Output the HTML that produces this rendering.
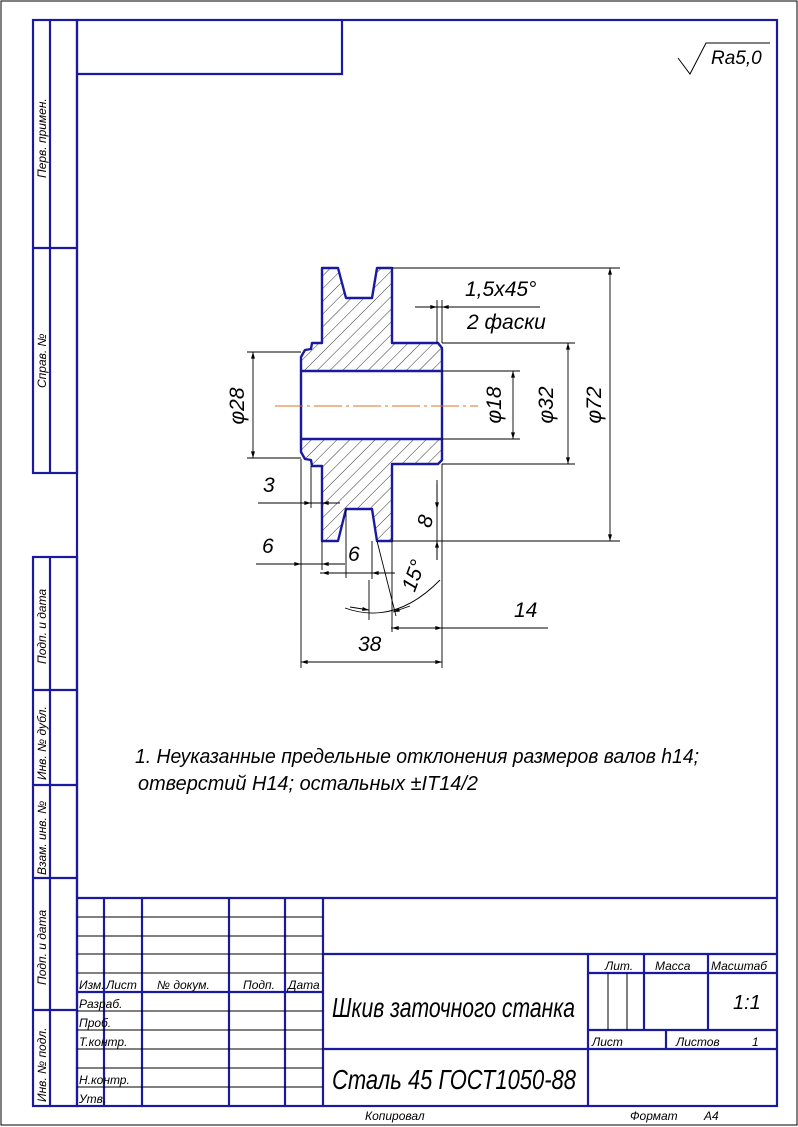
<!DOCTYPE html>
<html><head><meta charset="utf-8"><style>
html,body{margin:0;padding:0;background:#fff}
svg{display:block}
text{font-family:"Liberation Sans Narrow","Liberation Sans",sans-serif;font-style:italic;fill:#000}
</style></head><body>
<svg width="798" height="1127" viewBox="0 0 798 1127" xmlns="http://www.w3.org/2000/svg">
<defs>
<pattern id="h" width="9" height="9" patternUnits="userSpaceOnUse" patternTransform="rotate(45)">
<line x1="0" y1="0" x2="0" y2="9" stroke="#000" stroke-width="0.8"/>
</pattern>
<marker id="a" viewBox="0 0 10 6" refX="10" refY="3" markerWidth="10" markerHeight="4" orient="auto-start-reverse" markerUnits="userSpaceOnUse"><path d="M0,0L10,3L0,6z" fill="#000"/></marker>
</defs>
<rect x="1" y="1" width="796" height="1124" fill="none" stroke="#000" stroke-width="1"/>
<g stroke="#1a1aa0" stroke-width="2.2" fill="none">
<rect x="77" y="20" width="700" height="1086"/>
<path d="M77,74H342V20"/>
<rect x="33" y="20" width="44" height="453"/>
<path d="M50,20V473M33,248H77"/>
<rect x="33" y="557" width="44" height="549"/>
<path d="M50,557V1106M33,690H77M33,785H77M33,878H77M33,1010H77"/>
<!-- title block -->
<path d="M77,898H777M104,898V1106M142,898V1106M229,898V1106M285,898V1106M323,898V1106"/>
<path d="M77,992H323M323,954H777M323,1049H777M588,954V1106M588,973H777M588,1030H777M644,954V1030M708,954V1030M666,1030V1049"/>
</g>
<g stroke="#000" stroke-width="1" fill="none">
<path d="M77,917H323M77,936H323M77,954H323M77,973H323M77,1011H323M77,1030H323M77,1049H323M77,1068H323M77,1087H323"/>
<path d="M608,973V1030M627,973V1030"/>
</g>
<g font-size="12">
<text x="79" y="989">Изм.</text><text x="106" y="989">Лист</text><text x="157" y="989">№ докум.</text><text x="243" y="989">Подп.</text><text x="288" y="989">Дата</text>
<text x="79" y="1008">Разраб.</text><text x="79" y="1027">Проб.</text><text x="79" y="1046">Т.контр.</text>
<text x="79" y="1084">Н.контр.</text><text x="79" y="1103">Утв.</text>
<text x="605" y="970">Лит.</text><text x="655" y="970">Масса</text><text x="711" y="970">Масштаб</text>
<text x="592" y="1046">Лист</text><text x="676" y="1046">Листов</text><text x="752" y="1046">1</text>
<text x="365" y="1120">Копировал</text><text x="630" y="1120">Формат</text><text x="704" y="1120">A4</text>
</g>
<text x="733" y="1009" font-size="20">1:1</text>
<text x="332" y="1017" font-size="28" textLength="243" lengthAdjust="spacingAndGlyphs">Шкив заточного станка</text>
<text x="332" y="1089" font-size="28" textLength="244" lengthAdjust="spacingAndGlyphs">Сталь 45 ГОСТ1050-88</text>
<g font-size="12">
<text transform="translate(46,178) rotate(-90)">Перв. примен.</text>
<text transform="translate(46,388) rotate(-90)">Справ. №</text>
<text transform="translate(46,664) rotate(-90)">Подп. и дата</text>
<text transform="translate(46,780) rotate(-90)">Инв. № дубл.</text>
<text transform="translate(46,875) rotate(-90)">Взам. инв. №</text>
<text transform="translate(46,985) rotate(-90)">Подп. и дата</text>
<text transform="translate(46,1102) rotate(-90)">Инв. № подл.</text>
</g>
<!-- roughness -->
<path d="M678,58L690,74L706,43H770" stroke="#000" fill="none" stroke-width="1"/>
<text x="711" y="64" font-size="19">Ra5,0</text>
<!-- part -->
<g fill="url(#h)" stroke="#1a1aa0" stroke-width="2.4" stroke-linejoin="round">
<path d="M322,268H338L346,298H372L377,268H392V343H438L442,348V371H301V357L305,350L311,349L312,343H322Z"/>
<path d="M301,439H442V460L438,464H392V541H377L372,509H346L338,541H322V466H312L311,460L305,459L301,452Z"/>
</g>
<path d="M301,371V439M442,371V439" stroke="#1a1aa0" stroke-width="2.4"/>
<line x1="275" y1="406" x2="478" y2="406" stroke="#e07020" stroke-width="1" stroke-dasharray="28,4,3,4"/>
<!-- dims -->
<g stroke="#000" stroke-width="0.9" fill="none">
<path d="M247,352H301M247,458H301M442,371H520M442,439H520M442,343H575M442,464H575M392,268H620M392,541H620"/>
<path d="M437,300V343M442,300V343M311,466V508M322,541V570M346,509V578M372,541V579M369,580V620M392,541V632M442,464V668M301,459V668M437,480V560"/>
<path d="M415,307H540"/>
<path d="M377,541L396,616"/>
<path d="M345,608Q395,626 440,580"/>
<path d="M258,503H330M256,564H345M320,573H395M391,628H548M437,484V509M437,541V553" />
<line x1="253" y1="352" x2="253" y2="458" marker-start="url(#a)" marker-end="url(#a)"/>
<line x1="513" y1="371" x2="513" y2="439" marker-start="url(#a)" marker-end="url(#a)"/>
<line x1="568" y1="343" x2="568" y2="464" marker-start="url(#a)" marker-end="url(#a)"/>
<line x1="610" y1="268" x2="610" y2="541" marker-start="url(#a)" marker-end="url(#a)"/>
<line x1="301" y1="662" x2="442" y2="662" marker-start="url(#a)" marker-end="url(#a)"/>
<line x1="420" y1="307" x2="437" y2="307" marker-end="url(#a)"/>
<line x1="460" y1="307" x2="442" y2="307" marker-end="url(#a)"/>
<line x1="282" y1="503" x2="311" y2="503" marker-end="url(#a)"/>
<line x1="340" y1="503" x2="322" y2="503" marker-end="url(#a)"/>
<line x1="280" y1="564" x2="301" y2="564" marker-end="url(#a)"/>
<line x1="342" y1="564" x2="322" y2="564" marker-end="url(#a)"/>
<line x1="322" y1="573" x2="346" y2="573" marker-start="url(#a)"/>
<line x1="372" y1="573" x2="388" y2="573" marker-start="url(#a)"/>
<line x1="392" y1="628" x2="420" y2="628" marker-start="url(#a)"/>
<line x1="412" y1="628" x2="442" y2="628" marker-end="url(#a)"/>
<line x1="437" y1="490" x2="437" y2="509" marker-end="url(#a)"/>
<line x1="437" y1="560" x2="437" y2="541" marker-end="url(#a)"/>
<line x1="350" y1="607" x2="369" y2="610" marker-end="url(#a)"/>
<line x1="410" y1="606" x2="393" y2="612" marker-end="url(#a)"/>
</g>
<g font-size="21">
<text x="465" y="296">1,5x45°</text>
<text x="467" y="329">2 фаски</text>
<text transform="translate(244,406) rotate(-90)" text-anchor="middle">φ28</text>
<text transform="translate(501,405) rotate(-90)" text-anchor="middle">φ18</text>
<text transform="translate(553,405) rotate(-90)" text-anchor="middle">φ32</text>
<text transform="translate(601,405) rotate(-90)" text-anchor="middle">φ72</text>
<text x="263" y="492">3</text>
<text x="262" y="553">6</text>
<text x="348" y="561">6</text>
<text transform="translate(432,523) rotate(-75)" text-anchor="middle">8</text>
<text transform="translate(420,578) rotate(-70)" text-anchor="middle">15°</text>
<text x="514" y="617">14</text>
<text x="358" y="651">38</text>
</g>
<text x="135" y="763" font-size="20" textLength="564" lengthAdjust="spacingAndGlyphs">1. Неуказанные предельные отклонения размеров валов h14;</text>
<text x="138" y="790" font-size="20" textLength="340" lengthAdjust="spacingAndGlyphs">отверстий H14; остальных ±IT14/2</text>
</svg>
</body></html>
